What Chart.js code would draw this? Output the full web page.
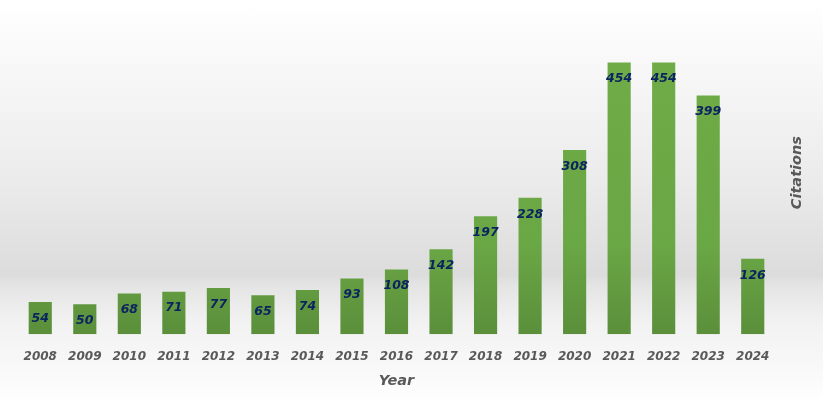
<!DOCTYPE html>
<html>
<head>
<meta charset="utf-8">
<script src="https://cdn.jsdelivr.net/npm/chart.js@4.4.1/dist/chart.umd.min.js"></script>
<style>
  html, body { margin: 0; padding: 0; }
  body {
    width: 823px; height: 404px; overflow: hidden;
    background: linear-gradient(to bottom, #ffffff 0%, #f7f7f7 18%, #ebebeb 45%, #dcdcdc 68%, #e4e4e4 70.5%, #f2f2f2 80%, #f9f9f9 92%, #ffffff 100%);
  }
  canvas { display: block; }
</style>
</head>
<body>
<canvas id="chart" width="823" height="404"></canvas>
<script>
const years = ['2008', '2009', '2010', '2011', '2012', '2013', '2014', '2015', '2016', '2017', '2018', '2019', '2020', '2021', '2022', '2023', '2024'];
const citations = [54, 50, 68, 71, 77, 65, 74, 93, 108, 142, 197, 228, 308, 454, 454, 399, 126];

// value inside the top of each bar
const barLabels = {
  id: 'barLabels',
  afterDatasetsDraw(chart) {
    const ctx = chart.ctx;
    const meta = chart.getDatasetMeta(0);
    ctx.save();
    ctx.font = 'italic bold 12.5px "DejaVu Sans"';
    ctx.fillStyle = '#0b2460';
    ctx.textAlign = 'center';
    ctx.textBaseline = 'middle';
    meta.data.forEach((bar, i) => {
      ctx.fillText(citations[i], bar.x, bar.y + 16.5);
    });
    ctx.restore();
  }
};

// y title sits a bit above the middle of the plot, so draw it by hand
const yTitle = {
  id: 'yTitle',
  afterDraw(chart) {
    const ctx = chart.ctx;
    const area = chart.chartArea;
    ctx.save();
    ctx.translate(area.right + 22, (area.top + area.bottom) / 2 - 12);
    ctx.rotate(-Math.PI / 2);
    ctx.font = 'italic bold 14.5px "DejaVu Sans"';
    ctx.fillStyle = '#595959';
    ctx.textAlign = 'center';
    ctx.textBaseline = 'middle';
    ctx.fillText('Citations', 0, 0);
    ctx.restore();
  }
};

function barFill(context) {
  const area = context.chart.chartArea;
  if (!area) return '#6aa744';
  const g = context.chart.ctx.createLinearGradient(0, area.top, 0, area.bottom);
  g.addColorStop(0, '#70ad47');
  g.addColorStop(0.7, '#6aa745');
  g.addColorStop(1, '#5b8f3b');
  return g;
}

new Chart(document.getElementById('chart'), {
  type: 'bar',
  data: {
    labels: years,
    datasets: [{
      label: 'Citations',
      data: citations,
      backgroundColor: barFill,
      borderWidth: 0,
      categoryPercentage: 1,
      barPercentage: 0.52
    }]
  },
  options: {
    responsive: false,
    animation: false,
    layout: { padding: { top: 35, left: 18, right: 48, bottom: 14 } },
    plugins: {
      legend: { display: false },
      tooltip: { enabled: false }
    },
    scales: {
      x: {
        grid: { display: false },
        border: { display: false },
        ticks: {
          autoSkip: false,
          maxRotation: 0,
          padding: 7,
          color: '#595959',
          font: { family: 'DejaVu Sans', size: 12, style: 'italic', weight: 'bold' }
        },
        title: {
          display: true,
          text: 'Year',
          color: '#595959',
          padding: { top: 2, bottom: 0 },
          font: { family: 'DejaVu Sans', size: 14.5, style: 'italic', weight: 'bold' }
        }
      },
      y: {
        display: false,
        min: 0,
        max: 500
      }
    }
  },
  plugins: [barLabels, yTitle]
});
</script>
</body>
</html>
